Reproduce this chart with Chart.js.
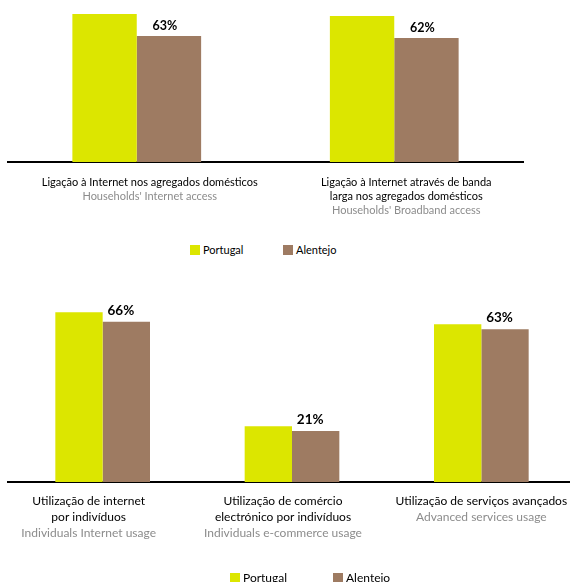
<!DOCTYPE html>
<html><head><meta charset="utf-8">
<script src="https://cdn.jsdelivr.net/npm/chart.js@4"></script>
<style>
html,body{margin:0;padding:0;background:#fff;width:570px;height:582px;overflow:hidden;position:relative;font-family:Lato,sans-serif;}
#w1{position:absolute;left:0;top:0;width:530px;height:230px;}
#w2{position:absolute;left:0;top:260px;width:600px;height:322px;}
.legend{position:absolute;height:14px;}
.item{position:absolute;top:0;display:flex;align-items:center;white-space:nowrap;color:#000;}
.sw{display:inline-block;width:10px;height:10px;margin-right:3px;}
</style>
</head><body>
<div id="w1"><canvas id="c1" width="530" height="230"></canvas></div>
<div id="w2"><canvas id="c2" width="600" height="322"></canvas></div>
<div class="legend" id="lg1" style="left:0;top:243px;font-size:11px;">
  <div class="item" style="left:190px;"><span class="sw" style="background:#DCE600"></span><span class="t0"></span></div>
  <div class="item" style="left:283px;"><span class="sw" style="background:#9E7B62"></span><span class="t1"></span></div>
</div>
<div class="legend" id="lg2" style="left:0;top:570px;font-size:12px;">
  <div class="item" style="left:230px;"><span class="sw" style="background:#DCE600"></span><span class="t0"></span></div>
  <div class="item" style="left:333px;"><span class="sw" style="background:#9E7B62"></span><span class="t1"></span></div>
</div>
<script>
// ---- data ----
const seriesNames = ['Portugal', 'Alentejo'];
const topLabelsPT = [
  ['Ligação à Internet nos agregados domésticos'],
  ['Ligação à Internet através de banda', 'larga nos agregados domésticos']
];
const topLabelsEN = ["Households' Internet access", "Households' Broadband access"];
const topPortugal = [74, 73];
const topAlentejo = [63, 62];

const botLabelsPT = [
  ['Utilização de internet', 'por indivíduos'],
  ['Utilização de comércio', 'electrónico por indivíduos'],
  ['Utilização de serviços avançados']
];
const botLabelsEN = ['Individuals Internet usage', 'Individuals e-commerce usage', 'Advanced services usage'];
const botPortugal = [70, 23, 65];
const botAlentejo = [66, 21, 63];

const colors = ['#DCE600', '#9E7B62'];

document.querySelectorAll('.t0').forEach(e => e.textContent = seriesNames[0]);
document.querySelectorAll('.t1').forEach(e => e.textContent = seriesNames[1]);

const textPlugin = {
  id: 'textPlugin',
  afterDraw(chart, args, o) {
    const ctx = chart.ctx, xs = chart.scales.x, base = chart.chartArea.bottom;
    ctx.save();
    ctx.textAlign = 'center';
    ctx.textBaseline = 'middle';
    o.pt.forEach((lines, i) => {
      const x = xs.getPixelForValue(i) + o.labelDx[i];
      let y = base + o.first;
      ctx.font = o.font;
      ctx.fillStyle = '#000';
      lines.forEach(l => { ctx.fillText(l, x, y); y += o.lh; });
      ctx.fillStyle = '#8C8C8C';
      ctx.fillText(o.en[i], x, y);
    });
    ctx.textBaseline = 'alphabetic';
    ctx.font = o.valFont;
    ctx.fillStyle = '#000';
    const meta = chart.getDatasetMeta(1);
    meta.data.forEach((bar, i) => {
      ctx.fillText(chart.data.datasets[1].data[i] + '%', bar.x + o.valDx, bar.y - o.valDy);
    });
    ctx.restore();
  }
};

function makeChart(id, labels, pt, al, yMax, pad, opts) {
  return new Chart(document.getElementById(id), {
    type: 'bar',
    data: {
      labels: labels.map(l => l.join(' ')),
      datasets: [
        { label: seriesNames[0], data: pt, backgroundColor: colors[0], categoryPercentage: 0.5, barPercentage: 1.0 },
        { label: seriesNames[1], data: al, backgroundColor: colors[1], categoryPercentage: 0.5, barPercentage: 1.0 }
      ]
    },
    options: {
      responsive: false,
      animation: false,
      layout: { padding: pad },
      plugins: { legend: { display: false }, tooltip: { enabled: false }, textPlugin: opts },
      scales: {
        x: { grid: { display: false, drawTicks: false, tickLength: 0 }, ticks: { display: false, padding: 0 }, border: { display: true, color: '#000', width: 2 } },
        y: { display: false, min: 0, max: yMax }
      }
    },
    plugins: [textPlugin]
  });
}

makeChart('c1', topLabelsPT, topPortugal, topAlentejo, 81, { left: 8, right: 7, top: 0, bottom: 68 }, {
  pt: topLabelsPT, en: topLabelsEN, labelDx: [13, 12], first: 20, lh: 14,
  font: '11px Lato', valFont: 'bold 12.5px Lato', valDx: -4, valDy: 6
});
makeChart('c2', botLabelsPT, botPortugal, botAlentejo, 91.5, { left: 8, right: 24, top: 0, bottom: 100 }, {
  pt: botLabelsPT, en: botLabelsEN, labelDx: [-14, -9, 0], first: 19, lh: 16,
  font: '12px Lato', valFont: 'bold 13.5px Lato', valDx: -5.5, valDy: 7
});
</script>
</body></html>
